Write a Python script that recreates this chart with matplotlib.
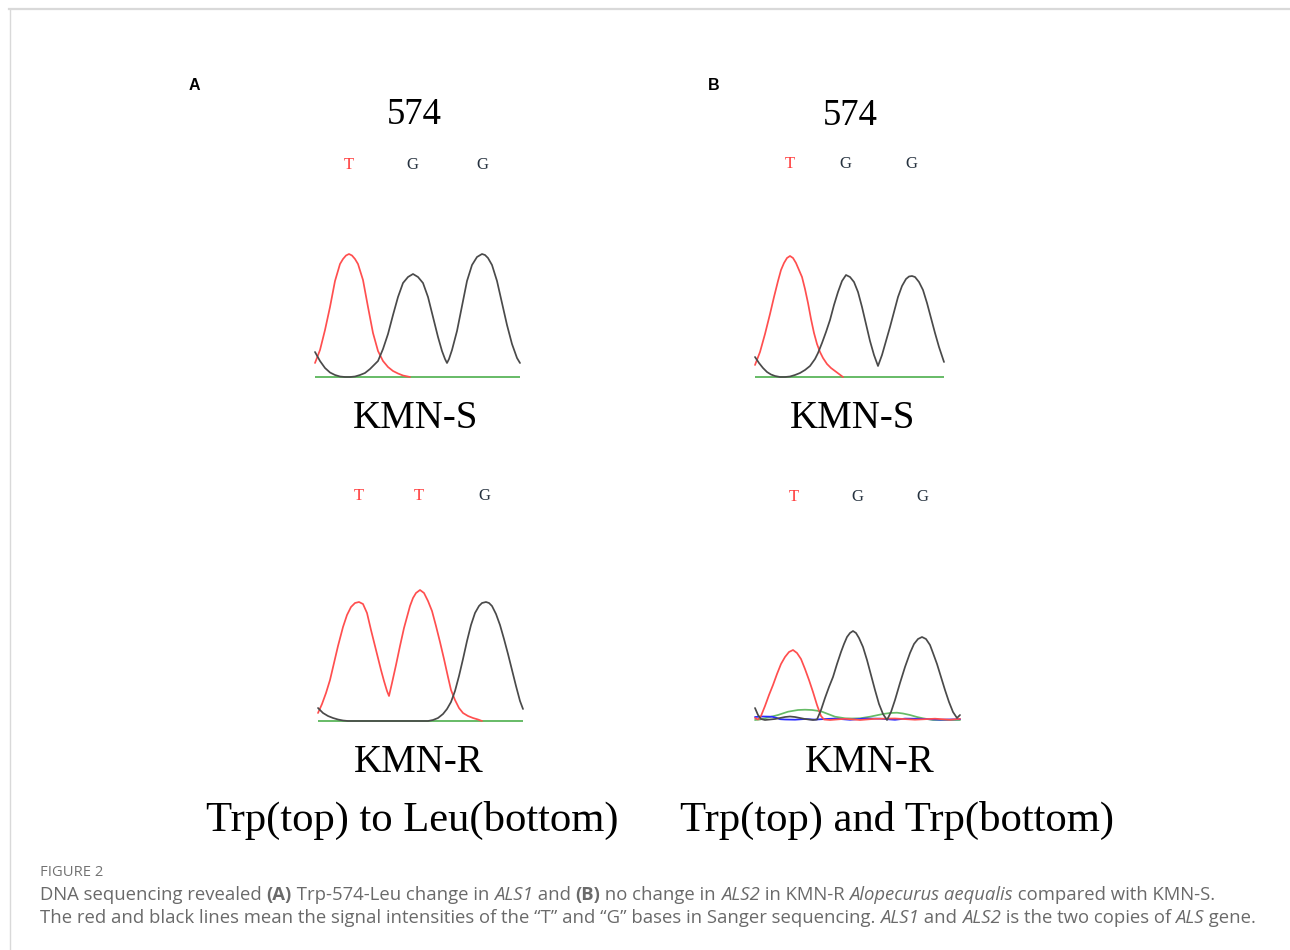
import matplotlib
matplotlib.use('Agg')
import matplotlib.pyplot as plt
from matplotlib.lines import Line2D

# ---- chromatogram traces (scan position, signal intensity) ----
# ALS1, KMN-S
als1_s_t_pos = [0, 5, 10, 15, 20, 25, 28, 31, 34, 37, 40, 43, 48, 53, 58, 63, 68, 73, 78, 83, 88, 95]
als1_s_t_sig = [14, 27, 47, 70, 96, 113, 118, 121.5, 123, 121.5, 118, 113, 97, 70, 44, 26, 16, 10,
                6, 3.5, 1.5, 0]
als1_s_g_pos = [0, 5, 10, 15, 20, 25, 30, 35, 40, 45, 50, 55, 60, 63, 68, 73, 78, 83, 88, 93,
                98, 103, 108, 113, 118, 123, 127, 130, 132, 134, 137, 142, 147, 152, 157, 162,
                167, 170, 173, 177, 182, 187, 192, 197, 202, 205]
als1_s_g_sig = [25, 16, 9, 4.5, 2, 0.5, 0, 0, 0.5, 2, 4, 8, 13, 16, 28, 43, 62, 80, 94, 100,
                103, 100, 94, 80, 60, 40, 26, 18, 14, 18, 27, 46, 71, 96, 112, 120,
                123, 122, 119, 112, 96, 74, 52, 33, 19, 14]

# ALS2, KMN-S
als2_s_t_pos = [0, 5, 10, 15, 19, 23, 26, 29, 32, 35, 38, 41, 44, 47, 50, 53, 56, 59, 62, 65,
                68, 72, 76, 80, 84, 88]
als2_s_t_sig = [12, 25, 43, 63, 80, 96, 107, 114, 119, 121, 119, 114, 107, 100, 88, 74, 58, 44,
                33, 25, 19, 13, 9, 6, 3, 0]
als2_s_g_pos = [0, 4, 8, 12, 16, 20, 25, 30, 35, 40, 45, 50, 55, 60, 63, 67, 71, 75, 79, 83,
                87, 91, 95, 99, 103, 107, 111, 115, 119, 123, 127, 131, 135, 139, 143, 147,
                151, 154, 157, 160, 164, 168, 172, 176, 180, 184, 189]
als2_s_g_sig = [20, 14, 9, 5, 2.5, 1, 0, 0, 0.5, 2, 4, 7, 11, 18, 24, 34, 45, 57, 72, 85,
                96, 102, 100, 95, 85, 70, 53, 36, 22, 11, 22, 36, 50, 65, 80, 91,
                98, 100.5, 101, 100, 95, 87, 74, 59, 44, 30, 15]

# ALS1, KMN-R
als1_r_t_pos = [0, 4, 8, 12, 16, 20, 25, 29, 33, 37, 41, 45, 49, 53, 57, 60, 63, 66, 69, 71,
                74, 78, 82, 86, 89, 92, 95, 98, 102, 106, 110, 114, 118, 122, 126, 130,
                133, 137, 141, 145, 150, 155, 160, 164]
als1_r_t_sig = [8, 17, 28, 41, 58, 75, 94, 106, 114, 118, 119, 117, 108, 91, 75, 63, 51, 40, 30, 25,
                38, 56, 75, 93, 104, 115, 123, 128, 131, 128, 120, 110, 95, 79, 62, 44,
                31, 21, 13, 8, 5, 3, 1.5, 0]
als1_r_g_pos = [0, 5, 10, 15, 20, 25, 30, 110, 115, 120, 125, 129, 133, 137, 141, 145, 149, 153,
                157, 161, 164, 168, 171, 174, 178, 182, 186, 190, 194, 198, 202, 205]
als1_r_g_sig = [13, 8, 5, 3, 1.5, 0.5, 0, 0, 1, 3, 7, 12, 19, 30, 45, 62, 80, 96,
                108, 115, 118, 119, 118, 115, 107, 96, 82, 67, 51, 35, 20, 12]

# ALS2, KMN-R (all four channels)
als2_r_t_pos = [0, 3, 6, 10, 14, 18, 22, 26, 30, 34, 38, 42, 46, 50, 54, 58, 62, 66, 69,
                75, 90, 105, 120, 140, 160, 180, 195, 205]
als2_r_t_sig = [2, 0.5, 4, 14, 25, 35, 46, 56, 63, 68, 70, 67, 61, 51, 40, 28, 15, 4, 0.5,
                0, 1.2, 0, 1.2, 1.5, 0.3, 1.3, 0.2, 1.2]
als2_r_g_pos = [0, 3, 6, 10, 20, 30, 35, 40, 50, 58, 62, 66, 70, 74, 78, 82, 86, 89, 92, 95,
                98, 101, 104, 108, 112, 116, 120, 124, 128, 132, 136, 140, 145, 150, 155,
                159, 163, 167, 171, 175, 178, 182, 186, 190, 194, 198, 202, 205]
als2_r_g_sig = [12, 5, 1, 0, 1, 3, 3.5, 3, 1, 0, 0.5, 10, 22, 33, 43, 56, 68, 76, 83, 87,
                89, 87, 82, 73, 60, 45, 30, 16, 6, 0, 8, 20, 37, 53, 67,
                76, 81, 83, 81, 75, 67, 56, 43, 30, 18, 8, 2, 5]
als2_r_a_pos = [0, 5, 15, 23, 33, 43, 50, 57, 62, 67, 73, 80, 90, 97, 105, 115, 128, 135,
                142, 148, 155, 162, 168, 178, 205]
als2_r_a_sig = [0, 0.5, 3, 5, 8.3, 10, 10.3, 10, 9.3, 8.3, 6, 3.3, 1.7, 1.5, 1.7, 3.3, 6, 7,
                7.3, 6.5, 5, 3, 1.7, 0, 0]
als2_r_c_pos = [0, 8, 17, 22, 25, 30, 40, 50, 60, 70, 80, 95, 110, 125, 140, 150, 165, 185, 205]
als2_r_c_sig = [3, 3.5, 3.3, 2, 0.8, 0.5, 0.3, 1, 0.4, 1, 1.4, 0.2, 1.5, 1.3, 0.2, 1.4, 1.2,
                0.3, 0.8]

panel_bases = ['TGG', 'TGG', 'TTG', 'TGG']
site_label = '574'
sample_labels = ['KMN-S', 'KMN-S', 'KMN-R', 'KMN-R']
change_labels = ['Trp(top) to Leu(bottom)', 'Trp(top) and Trp(bottom)']

RED = '#ff4f4f'
BLACK = '#4a4a4a'
GREEN = '#66bb66'
BLUE = '#2a2aff'
BASE_COLORS = {'T': '#ff3b3b', 'G': '#26323f'}

W, H = 1290, 950
fig = plt.figure(figsize=(W / 100, H / 100), dpi=100)


def fx(px):
    return px / W


def fy(py):
    return 1 - py / H


def trace_panel(left, baseline, width, traces, baseline_line=True):
    ax = fig.add_axes([fx(left), fy(baseline + 6), width / W, 160 / H])
    ax.set_xlim(0, width)
    ax.set_ylim(-6, 154)
    ax.axis('off')
    if baseline_line:
        ax.axhline(0, color=GREEN, lw=1.4, zorder=1)
    for z, (pos, sig, color) in enumerate(traces):
        ax.plot(pos, sig, color=color, lw=1.25, solid_joinstyle='round',
                solid_capstyle='round', zorder=2 + z, clip_on=False)
    return ax


trace_panel(315, 377, 205, [(als1_s_t_pos, als1_s_t_sig, RED),
                            (als1_s_g_pos, als1_s_g_sig, BLACK)])
trace_panel(755, 377, 189, [(als2_s_t_pos, als2_s_t_sig, RED),
                            (als2_s_g_pos, als2_s_g_sig, BLACK)])
trace_panel(318, 721, 205, [(als1_r_t_pos, als1_r_t_sig, RED),
                            (als1_r_g_pos, als1_r_g_sig, BLACK)])
trace_panel(755, 720, 205, [(als2_r_a_pos, als2_r_a_sig, GREEN),
                            (als2_r_c_pos, als2_r_c_sig, BLUE),
                            (als2_r_t_pos, als2_r_t_sig, RED),
                            (als2_r_g_pos, als2_r_g_sig, BLACK)],
            baseline_line=False)

# base calls above each trace
base_x = [[349, 412, 482], [790, 845, 911], [359, 419, 484], [794, 857, 922]]
base_y = [165, 164, 496, 497]
for bases, xs, y in zip(panel_bases, base_x, base_y):
    for b, x in zip(bases, xs):
        fig.text(fx(x), fy(y), b, color=BASE_COLORS[b], fontsize=12,
                 family='Liberation Serif', ha='center', va='center')

serif = 'Liberation Serif'
fig.text(fx(194), fy(85), 'A', fontsize=11.5, weight='bold', family='Liberation Sans',
         ha='center', va='center')
fig.text(fx(714), fy(85), 'B', fontsize=11.5, weight='bold', family='Liberation Sans',
         ha='center', va='center')
fig.text(fx(414), fy(115), site_label, fontsize=26.5, family=serif, ha='center', va='center')
fig.text(fx(850), fy(116), site_label, fontsize=26.5, family=serif, ha='center', va='center')

for lab, x, y in zip(sample_labels, [416, 853, 419, 870], [419, 419, 763, 763]):
    fig.text(fx(x), fy(y), lab, fontsize=28, family=serif, ha='center', va='center')
for lab, x in zip(change_labels, [412, 897]):
    fig.text(fx(x), fy(820), lab, fontsize=30.7, family=serif, ha='center', va='center')

# light frame around the figure
fig.add_artist(Line2D([fx(9), 1], [fy(9), fy(9)], color='#d9d9d9', lw=1.6))
fig.add_artist(Line2D([fx(9.5), fx(9.5)], [fy(9), 0], color='#d9d9d9', lw=1.0))

# caption
cap_font = 'Open Sans'
cap_color = '#6a6a6a'
cap_size = 13.3
fig.text(fx(40), fy(876), 'FIGURE 2', fontsize=10.6, family=cap_font, color='#727272',
         ha='left', va='baseline')

caption_lines = [
    [('DNA sequencing revealed ', 'normal', 'normal'), ('(A)', 'bold', 'normal'),
     (' Trp-574-Leu change in ', 'normal', 'normal'), ('ALS1', 'normal', 'italic'),
     (' and ', 'normal', 'normal'), ('(B)', 'bold', 'normal'),
     (' no change in ', 'normal', 'normal'), ('ALS2', 'normal', 'italic'),
     (' in KMN-R ', 'normal', 'normal'), ('Alopecurus aequalis', 'normal', 'italic'),
     (' compared with KMN-S.', 'normal', 'normal')],
    [('The red and black lines mean the signal intensities of the \u201cT\u201d and \u201cG\u201d '
      'bases in Sanger sequencing. ', 'normal', 'normal'), ('ALS1', 'normal', 'italic'),
     (' and ', 'normal', 'normal'), ('ALS2', 'normal', 'italic'),
     (' is the two copies of ', 'normal', 'normal'), ('ALS', 'normal', 'italic'),
     (' gene.', 'normal', 'normal')],
]

renderer = fig.canvas.get_renderer()


def run_width(s, weight, style):
    # measure with a trailing marker so edge spaces keep their advance
    t1 = fig.text(0, 0, s + 'x', fontsize=cap_size, family=cap_font, weight=weight, style=style)
    t2 = fig.text(0, 0, 'x', fontsize=cap_size, family=cap_font, weight=weight, style=style)
    w = t1.get_window_extent(renderer).width - t2.get_window_extent(renderer).width
    t1.remove()
    t2.remove()
    return w


for runs, y in zip(caption_lines, [900, 923]):
    x = 40
    for s, weight, style in runs:
        fig.text(fx(x), fy(y), s, fontsize=cap_size, family=cap_font, weight=weight,
                 style=style, color=cap_color, ha='left', va='baseline')
        x += run_width(s, weight, style)

fig.savefig('out.png', dpi=100)
